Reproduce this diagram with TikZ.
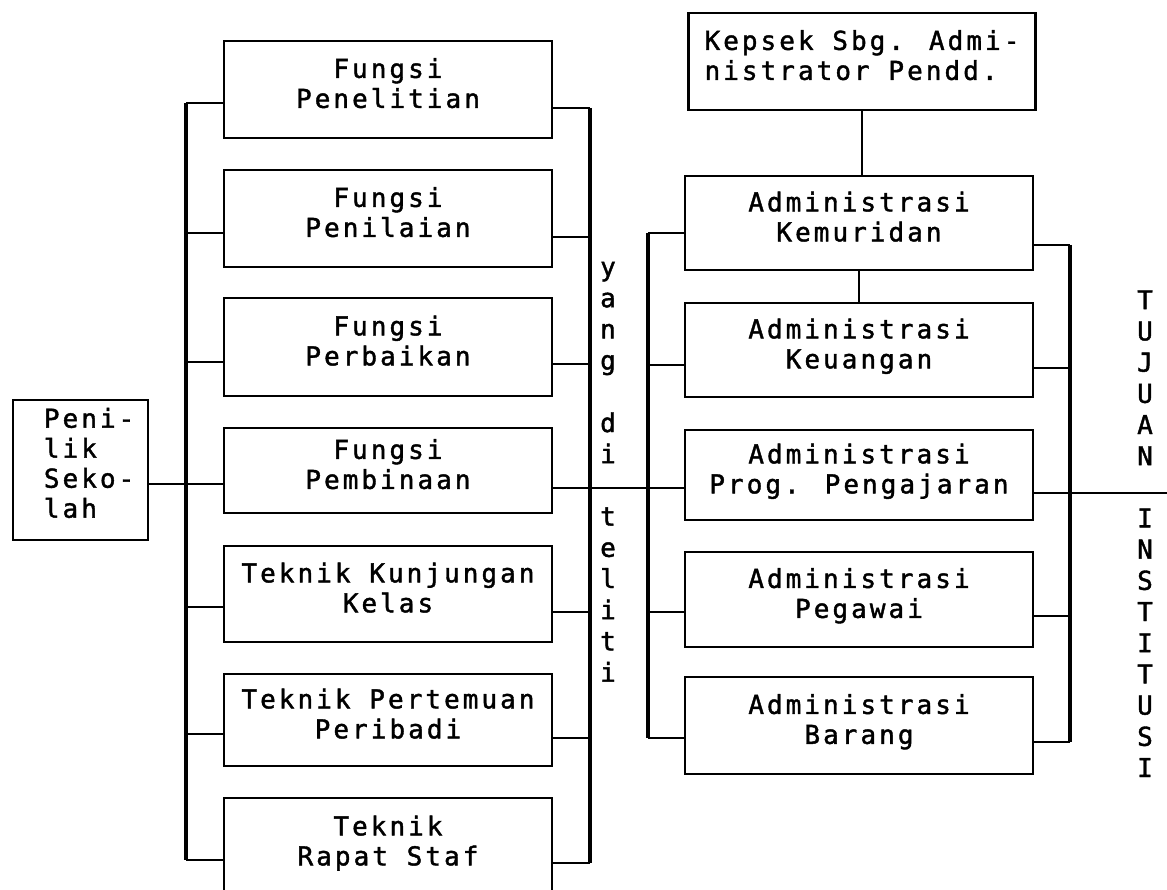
\documentclass[tikz,border=0pt]{standalone}
\usepackage{fontspec}
\newfontfamily\dotfont[LetterSpace=11.7,FakeBold=1.5]{DejaVu Sans Mono}
\newcommand\boxtext{\dotfont\fontsize{26}{30}\selectfont}
\newcommand\stacktext{\dotfont\fontsize{26}{31.2}\selectfont}
\begin{document}
\begin{tikzpicture}[x=1pt,y=-1pt,
  box/.style={draw, line width=2.6pt, inner sep=0pt, align=center, text depth=13pt, font=\boxtext},
  fbox/.style={box, minimum width=328},
  rbox/.style={box, minimum width=348},
  txt/.style={inner sep=0pt, font=\boxtext},
  vtxt/.style={inner sep=0pt, align=center, font=\stacktext},
  link/.style={line width=2pt},
  bracket/.style={line width=3.4pt}]
\useasboundingbox (0,0) rectangle (1167,890);
\clip (0,0) rectangle (1167,890);

% supervisor box
\node[box, minimum width=135, minimum height=140] (peni) at (80.5,470) {};
\node[txt, align=left, anchor=west] (penitxt) at ([xshift=32pt,yshift=7pt]peni.west) {Peni-\\lik\\Seko-\\lah};

% functions and techniques
\node[fbox, minimum height=97] (b1) at (388,89.5) {Fungsi\\Penelitian};
\node[fbox, minimum height=97] (b2) at (388,218.5) {Fungsi\\Penilaian};
\node[fbox, minimum height=98] (b3) at (388,347) {Fungsi\\Perbaikan};
\node[fbox, minimum height=85] (b4) at (388,470.5) {Fungsi\\Pembinaan};
\node[fbox, minimum height=96] (b5) at (388,594) {Teknik Kunjungan\\Kelas};
\node[fbox, minimum height=92] (b6) at (388,720) {Teknik Pertemuan\\Peribadi};
\node[fbox, minimum height=98] (b7) at (388,847) {Teknik\\Rapat Staf};

% administration areas
\node[box, minimum width=347, minimum height=97, align=left] (kepsek) at (862,61.5) {Kepsek Sbg. Admi-\\nistrator Pendd.};
\node[rbox, minimum height=94] (r1) at (859,223) {Administrasi\\Kemuridan};
\node[rbox, minimum height=94] (r2) at (859,350) {Administrasi\\Keuangan};
\node[rbox, minimum height=90] (r3) at (859,475) {Administrasi\\Prog. Pengajaran};
\node[rbox, minimum height=95] (r4) at (859,599.5) {Administrasi\\Pegawai};
\node[rbox, minimum height=97] (r5) at (859,725.5) {Administrasi\\Barang};

% vertical captions (anchored at the baseline of their last letter)
\node[vtxt, anchor=base] (yang) at (608,681.6) {y\\a\\n\\g\\[31.2pt]d\\i\\[31.2pt]t\\e\\l\\i\\t\\i};
\node[vtxt, anchor=base] (tujuan) at (1145,777) {T\\U\\J\\U\\A\\N\\[31pt]I\\N\\S\\T\\I\\T\\U\\S\\I};

% bracket coordinates
\foreach \n/\y in {1/103,2/233,3/362,5/607,6/734,7/860} \coordinate (la\n) at (186,\y);
\foreach \n/\y in {1/108,2/237,3/364,5/612,6/738,7/863} \coordinate (lb\n) at (590,\y);
\foreach \n/\y in {1/233,2/365,4/612,5/738} \coordinate (ra\n) at (648,\y);
\foreach \n/\y in {1/245,2/368,4/616,5/742} \coordinate (rb\n) at (1070,\y);
\coordinate (lam) at (186,484);
\coordinate (lbm) at (590,488);
\coordinate (tail) at (1167,493);

% brackets
\draw[bracket] (la1) -- (la7);
\draw[bracket] (lb1) -- (lb7);
\draw[bracket] (ra1) -- (ra5);
\draw[bracket] (rb1) -- (rb5);

% ticks
\foreach \n in {1,2,3,5,6,7} {
  \draw[link] (la\n) -- (la\n -| b\n.west);
  \draw[link] (b\n.east |- lb\n) -- (lb\n);
}
\foreach \n in {1,2,4,5} {
  \draw[link] (ra\n) -- (ra\n -| r\n.west);
  \draw[link] (r\n.east |- rb\n) -- (rb\n);
}

% main line
\draw[link] (peni.east |- lam) -- (lam -| b4.west);
\draw[link] (b4.east |- lbm) -- (lbm -| r3.west);
\draw[link] (r3.east |- tail) -- (tail);

% chain of command
\draw[link] (kepsek.south) -- (kepsek.south |- r1.north);
\draw[link] (r1.south) -- (r1.south |- r2.north);
\end{tikzpicture}
\end{document}
